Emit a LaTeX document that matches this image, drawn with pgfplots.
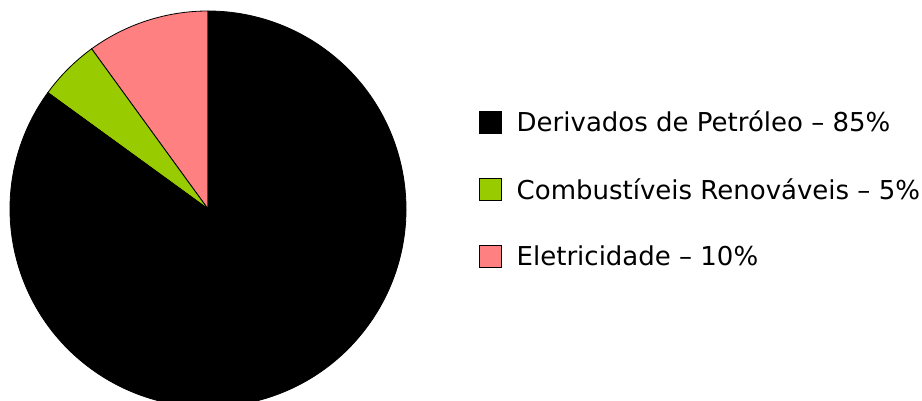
\documentclass[border=0pt]{standalone}
\usepackage{pgfplots}
\pgfplotsset{compat=1.18}
\usepackage{fontspec}
\setmainfont{DejaVu Sans}
\definecolor{pgreen}{HTML}{99CC00}
\definecolor{ppink}{HTML}{FF8080}
\begin{document}
\begin{tikzpicture}
\path[use as bounding box] (0,0) rectangle (922pt,401pt);
\clip (0,0) rectangle (922pt,401pt);
\begin{axis}[
  at={(0,0)}, anchor=south west, scale only axis,
  width=922pt, height=401pt,
  xmin=0, xmax=922, ymin=0, ymax=401,
  hide axis, clip=false,
  legend style={at={(axis cs:476,294)}, anchor=north west, draw=none, fill=none,
    font=\fontsize{26}{30}\selectfont, row sep=41pt, cells={anchor=west}},
  legend image code/.code={\draw[#1, line width=0.6pt] (0pt,-11pt) rectangle (22pt,11pt); \path (35pt,0pt);},
]
\addlegendimage{fill=black, draw=black}
\addlegendentry{Derivados de Petróleo – 85\%}
\addlegendimage{fill=pgreen, draw=black}
\addlegendentry{Combustíveis Renováveis – 5\%}
\addlegendimage{fill=ppink, draw=black}
\addlegendentry{Eletricidade – 10\%}
% pie slices: value / colour, counterclockwise from top
\def\ang{90}
\foreach \v/\c in {10/ppink, 5/pgreen, 85/black}{
  \pgfmathsetmacro\endang{\ang+3.6*\v}
  \edef\temp{\noexpand\filldraw[fill=\c, draw=black, line width=0.8pt] (axis cs:208,192) -- ++(\ang:198pt) arc[start angle=\ang, end angle=\endang, radius=198pt] -- cycle;}
  \temp
  \xdef\ang{\endang}
}
\end{axis}
\end{tikzpicture}
\end{document}
